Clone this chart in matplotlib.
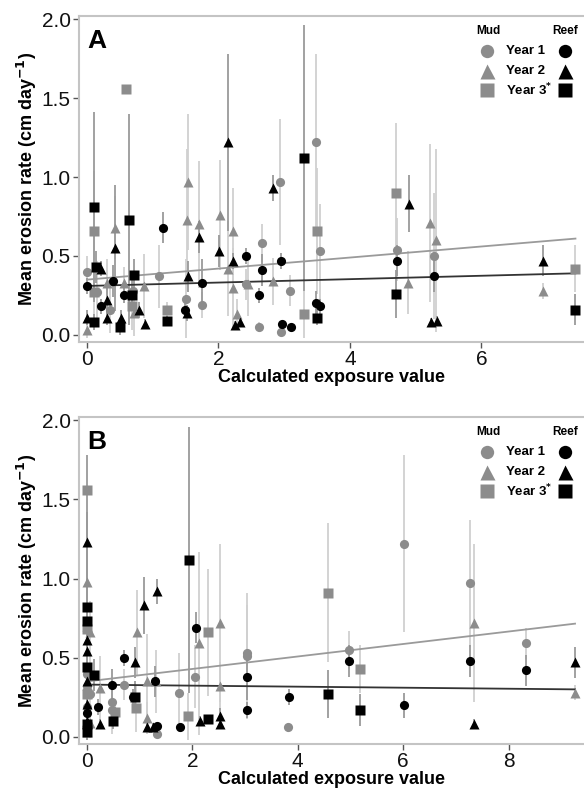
import matplotlib
matplotlib.use("Agg")
import matplotlib.pyplot as plt

plt.rcParams['font.family'] = ['Liberation Sans', 'DejaVu Sans']

# ---- panel A: exposure value (x), mean erosion rate (y), error half-width ----
a_mud1_x = [0.0, 0.15, 0.35, 0.7, 1.1, 1.5, 1.75, 2.42, 2.62, 2.66, 2.94, 2.95, 3.09, 3.49, 3.55, 4.72, 5.28]
a_mud1_y = [0.40, 0.27, 0.16, 0.28, 0.37, 0.23, 0.19, 0.32, 0.05, 0.58, 0.97, 0.02, 0.28, 1.22, 0.53, 0.54, 0.50]
a_mud1_e = [0.10, 0.20, 0.15, 0.10, 0.20, 0.25, 0.08, 0.10, 0.03, 0.12, 0.40, 0.02, 0.10, 0.56, 0.30, 0.20, 0.40]

a_mud2_x = [0.0, 0.3, 0.43, 0.56, 0.72, 0.87, 1.52, 1.54, 1.71, 2.02, 2.15, 2.22, 2.22, 2.28, 2.45, 2.83, 4.89, 5.22, 5.31, 6.93]
a_mud2_y = [0.03, 0.33, 0.68, 0.33, 0.14, 0.31, 0.73, 0.97, 0.70, 0.76, 0.42, 0.66, 0.30, 0.13, 0.32, 0.34, 0.33, 0.71, 0.60, 0.28]
a_mud2_e = [0.05, 0.15, 0.20, 0.10, 0.15, 0.20, 0.45, 0.43, 0.40, 0.35, 0.30, 0.27, 0.25, 0.10, 0.20, 0.15, 0.20, 0.50, 0.58, 0.05]

a_mud3_x = [0.11, 0.11, 0.6, 0.69, 1.22, 3.30, 3.50, 4.70, 7.43]
a_mud3_y = [0.66, 0.27, 1.56, 0.18, 0.16, 0.13, 0.66, 0.90, 0.42]
a_mud3_e = [0.38, 0.15, 0.0, 0.15, 0.05, 0.15, 0.40, 0.44, 0.15]

a_reef1_x = [0.0, 0.22, 0.40, 0.56, 1.16, 1.49, 1.75, 2.42, 2.62, 2.67, 2.95, 2.97, 3.10, 3.49, 3.55, 4.72, 5.28]
a_reef1_y = [0.31, 0.18, 0.34, 0.25, 0.68, 0.16, 0.33, 0.50, 0.25, 0.41, 0.47, 0.07, 0.05, 0.20, 0.18, 0.47, 0.37]
a_reef1_e = [0.05, 0.05, 0.10, 0.05, 0.10, 0.05, 0.15, 0.05, 0.05, 0.10, 0.05, 0.02, 0.02, 0.08, 0.05, 0.10, 0.10]

a_reef2_x = [0.0, 0.21, 0.30, 0.30, 0.43, 0.52, 0.79, 0.88, 1.52, 1.54, 1.71, 2.01, 2.14, 2.22, 2.25, 2.33, 2.83, 4.90, 5.24, 5.33, 6.93]
a_reef2_y = [0.11, 0.42, 0.22, 0.11, 0.55, 0.11, 0.16, 0.07, 0.14, 0.37, 0.62, 0.53, 1.22, 0.47, 0.06, 0.08, 0.93, 0.83, 0.08, 0.09, 0.47]
a_reef2_e = [0.05, 0.05, 0.10, 0.05, 0.40, 0.05, 0.05, 0.03, 0.05, 0.10, 0.10, 0.10, 0.56, 0.05, 0.03, 0.03, 0.08, 0.18, 0.03, 0.03, 0.10]

a_reef3_x = [0.11, 0.14, 0.11, 0.50, 0.64, 0.68, 0.72, 1.22, 3.30, 3.50, 4.70, 7.43]
a_reef3_y = [0.81, 0.43, 0.08, 0.05, 0.73, 0.25, 0.38, 0.09, 1.12, 0.11, 0.26, 0.16]
a_reef3_e = [0.60, 0.10, 0.05, 0.05, 0.67, 0.10, 0.10, 0.03, 0.84, 0.05, 0.15, 0.10]

# ---- panel B ----
b_mud1_x = [0.0, 0.0, 0.05, 0.47, 0.47, 0.70, 1.33, 1.75, 2.05, 3.04, 3.04, 3.81, 4.97, 6.02, 7.27, 8.33, 0.0]
b_mud1_y = [0.32, 0.40, 0.27, 0.22, 0.17, 0.33, 0.02, 0.28, 0.38, 0.53, 0.51, 0.06, 0.55, 1.22, 0.97, 0.59, 0.19]
b_mud1_e = [0.10, 0.10, 0.20, 0.10, 0.15, 0.10, 0.02, 0.25, 0.20, 0.30, 0.40, 0.03, 0.12, 0.56, 0.40, 0.10, 0.08]

b_mud2_x = [0.0, 0.06, 0.0, 0.25, 0.06, 0.95, 1.14, 1.14, 1.31, 2.13, 2.52, 2.52, 7.34, 9.26, 0.0, 0.0]
b_mud2_y = [0.98, 0.66, 0.33, 0.31, 0.09, 0.66, 0.35, 0.12, 0.35, 0.59, 0.72, 0.32, 0.72, 0.28, 0.70, 0.03]
b_mud2_e = [0.43, 0.20, 0.15, 0.20, 0.10, 0.27, 0.30, 0.10, 0.20, 0.58, 0.50, 0.15, 0.50, 0.05, 0.40, 0.05]

b_mud3_x = [0.0, 0.0, 0.0, 0.53, 0.93, 1.92, 2.30, 4.57, 5.18]
b_mud3_y = [1.56, 0.68, 0.27, 0.16, 0.18, 0.13, 0.66, 0.91, 0.43]
b_mud3_e = [0.0, 0.38, 0.15, 0.05, 0.15, 0.15, 0.40, 0.44, 0.15]

b_reef1_x = [0.0, 0.21, 0.47, 0.70, 0.87, 1.29, 1.33, 1.77, 2.07, 3.04, 3.04, 3.83, 4.97, 6.02, 7.27, 8.33, 0.0]
b_reef1_y = [0.15, 0.19, 0.33, 0.50, 0.25, 0.35, 0.07, 0.06, 0.69, 0.38, 0.17, 0.25, 0.48, 0.20, 0.48, 0.42, 0.07]
b_reef1_e = [0.05, 0.05, 0.10, 0.05, 0.05, 0.10, 0.02, 0.02, 0.10, 0.15, 0.05, 0.05, 0.10, 0.08, 0.10, 0.10, 0.05]

b_reef2_x = [0.0, 0.0, 0.0, 0.0, 0.0, 0.25, 0.91, 1.08, 1.33, 1.14, 1.25, 2.14, 2.52, 2.52, 7.34, 9.26, 0.0]
b_reef2_y = [1.23, 0.61, 0.54, 0.21, 0.10, 0.08, 0.47, 0.83, 0.92, 0.06, 0.06, 0.10, 0.13, 0.08, 0.08, 0.47, 0.35]
b_reef2_e = [0.55, 0.10, 0.10, 0.05, 0.05, 0.03, 0.10, 0.18, 0.08, 0.03, 0.03, 0.03, 0.05, 0.03, 0.03, 0.10, 0.10]

b_reef3_x = [0.0, 0.0, 0.0, 0.13, 0.0, 0.0, 0.50, 0.91, 1.94, 2.30, 4.57, 5.18]
b_reef3_y = [0.82, 0.73, 0.44, 0.39, 0.08, 0.03, 0.10, 0.25, 1.12, 0.11, 0.27, 0.17]
b_reef3_e = [0.60, 0.67, 0.10, 0.10, 0.05, 0.05, 0.05, 0.10, 0.84, 0.03, 0.15, 0.10]

# trend lines: (x start, x end, y start, y end)
a_mud_fit = [0.0, 7.43, 0.35, 0.61]
a_reef_fit = [0.0, 7.43, 0.31, 0.39]
b_mud_fit = [0.0, 9.26, 0.35, 0.715]
b_reef_fit = [0.0, 9.26, 0.33, 0.30]

mud_col = "#8c8c8c"
reef_col = "black"
mud_err = "#d0d0d0"
reef_err = "#9a9a9a"
markers = ["o", "^", "s"]
msizes = [6.6, 7.8, 6.8]
years = ["Year 1", "Year 2", "Year 3"]


def draw_panel(ax, mud, reef, mud_fit, reef_fit, letter, xticks, xlim):
    for (x, y, e) in mud:
        ax.errorbar(x, y, yerr=e, fmt="none", ecolor=mud_err, elinewidth=1.3, capsize=0, zorder=1)
    for (x, y, e) in reef:
        ax.errorbar(x, y, yerr=e, fmt="none", ecolor=reef_err, elinewidth=1.3, capsize=0, zorder=1)
    ax.plot(mud_fit[:2], mud_fit[2:], color="#9a9a9a", lw=1.3, zorder=2)
    ax.plot(reef_fit[:2], reef_fit[2:], color="#333333", lw=1.3, zorder=2)
    for i, (x, y, e) in enumerate(mud):
        ax.plot(x, y, ls="none", marker=markers[i], ms=msizes[i], color=mud_col, mec="none", zorder=3)
    for i, (x, y, e) in enumerate(reef):
        ax.plot(x, y, ls="none", marker=markers[i], ms=msizes[i], color=reef_col, mec="none", zorder=4)

    ax.set_xlim(*xlim)
    ax.set_ylim(-0.045, 2.02)
    ax.set_xticks(xticks)
    ax.set_yticks([0.0, 0.5, 1.0, 1.5, 2.0])
    ax.set_yticklabels(["0.0", "0.5", "1.0", "1.5", "2.0"])
    for s in ax.spines.values():
        s.set_color("#c4c4c4")
        s.set_linewidth(1.5)
    ax.spines["right"].set_visible(False)
    ax.tick_params(length=4, width=1, color="#555555", labelsize=15, pad=2, labelcolor="#111111")
    ax.set_xlabel("Calculated exposure value", fontsize=13, fontweight="bold", labelpad=0)
    ax.set_ylabel("Mean erosion rate (cm day$^{\\mathbf{-1}}$)", fontsize=13, fontweight="bold", labelpad=2)
    ax.text(0.016, 0.96, letter, transform=ax.transAxes, fontsize=19, fontweight="bold", va="top", ha="left")

    # custom two-column legend
    ax.text(0.81, 0.953, "Mud", transform=ax.transAxes, fontsize=8.5, fontweight="bold", ha="center", va="center")
    ax.text(0.962, 0.953, "Reef", transform=ax.transAxes, fontsize=8.5, fontweight="bold", ha="center", va="center")
    rows = [0.892, 0.831, 0.773]
    for i in range(3):
        ax.plot(0.808, rows[i], marker=markers[i], ms=msizes[i] + 3, color=mud_col, mec="none",
                transform=ax.transAxes, clip_on=False)
        ax.plot(0.962, rows[i], marker=markers[i], ms=msizes[i] + 3, color=reef_col, mec="none",
                transform=ax.transAxes, clip_on=False)
        label = years[i] if i < 2 else "Year 3$^{\\mathbf{*}}$"
        ax.text(0.846, rows[i], label, transform=ax.transAxes, fontsize=9.5, fontweight="bold",
                ha="left", va="center")


fig = plt.figure(figsize=(5.84, 7.93), dpi=100)
axA = fig.add_axes([79 / 584, 1 - 342 / 793, 505 / 584, 326 / 793])
axB = fig.add_axes([79 / 584, 1 - 744 / 793, 505 / 584, 327 / 793])

draw_panel(axA,
           [(a_mud1_x, a_mud1_y, a_mud1_e), (a_mud2_x, a_mud2_y, a_mud2_e), (a_mud3_x, a_mud3_y, a_mud3_e)],
           [(a_reef1_x, a_reef1_y, a_reef1_e), (a_reef2_x, a_reef2_y, a_reef2_e), (a_reef3_x, a_reef3_y, a_reef3_e)],
           a_mud_fit, a_reef_fit, "A", [0, 2, 4, 6], (-0.12, 7.56))
draw_panel(axB,
           [(b_mud1_x, b_mud1_y, b_mud1_e), (b_mud2_x, b_mud2_y, b_mud2_e), (b_mud3_x, b_mud3_y, b_mud3_e)],
           [(b_reef1_x, b_reef1_y, b_reef1_e), (b_reef2_x, b_reef2_y, b_reef2_e), (b_reef3_x, b_reef3_y, b_reef3_e)],
           b_mud_fit, b_reef_fit, "B", [0, 2, 4, 6, 8], (-0.15, 9.43))

fig.savefig("out.png", dpi=100)
